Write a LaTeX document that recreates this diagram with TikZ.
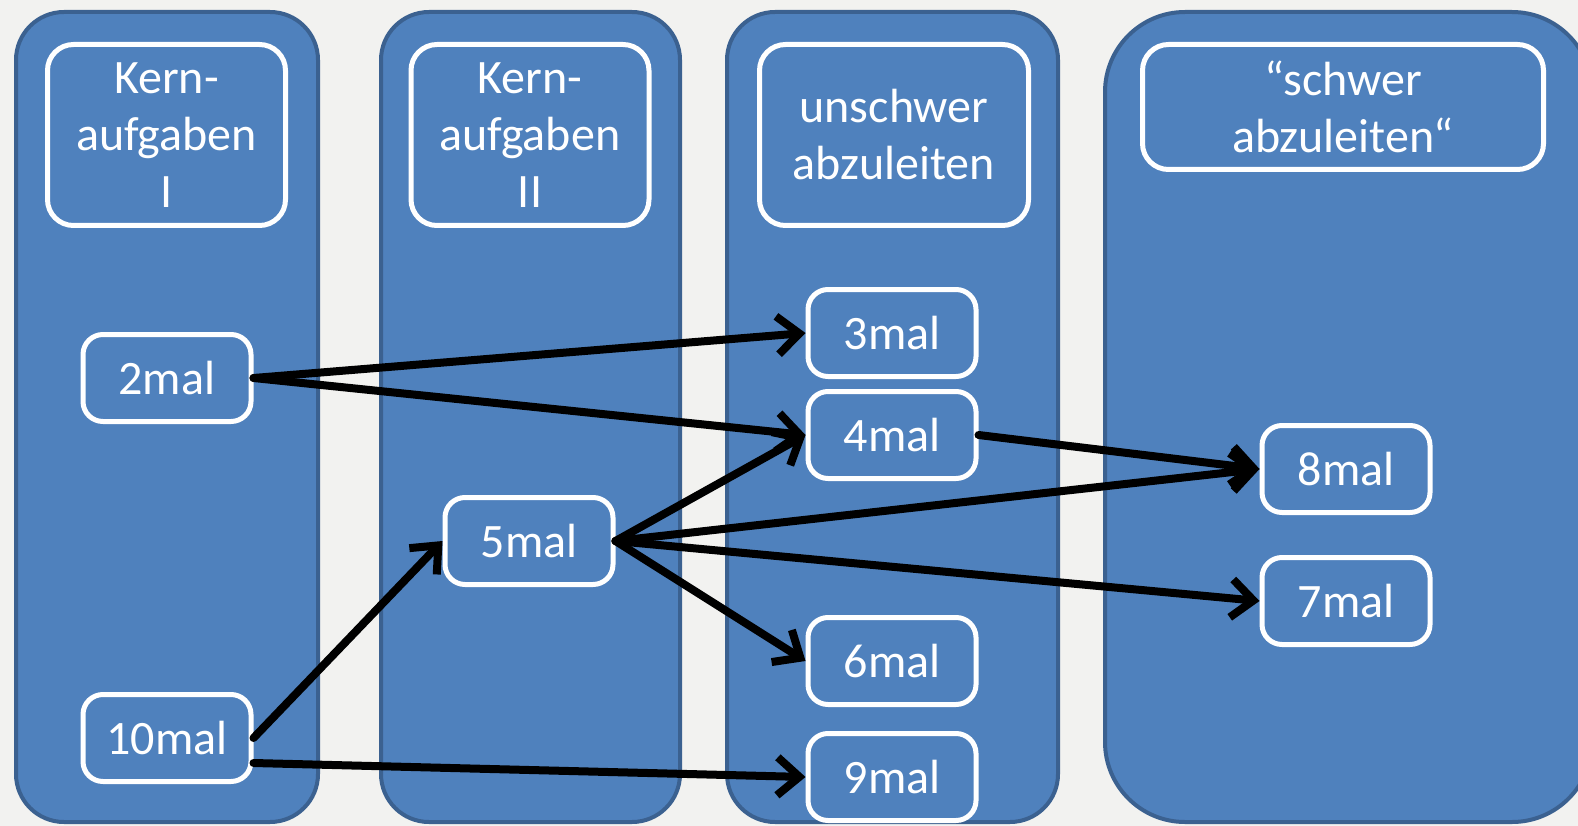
\documentclass[tikz,border=0pt]{standalone}
\usepackage{fontspec}
\setmainfont{Carlito}
\usetikzlibrary{arrows.meta}
\definecolor{bg}{HTML}{F2F2F0}
\definecolor{lane}{HTML}{4F81BD}
\definecolor{laneedge}{HTML}{3B6190}
\begin{document}
\begin{tikzpicture}[x=1pt,y=-1pt,
  lanebox/.style={fill=lane,draw=laneedge,line width=4pt,rounded corners=48pt},
  headbox/.style={draw=white,line width=5pt,rounded corners=26pt,text=white,
    font=\fontsize{48}{57}\selectfont,align=center,inner sep=0pt,minimum height=181pt},
  countbox/.style={draw=white,line width=5pt,rounded corners=20pt,text=white,
    font=\fontsize{48}{57}\selectfont,inner sep=0pt,minimum width=168pt,minimum height=87pt},
  link/.style={line width=8pt,black,line cap=round,line join=round,
    -{Straight Barb[length=22pt,width=38pt]}}]
  % canvas
  \clip (0,0) rectangle (1578,826);
  \fill[bg] (0,0) rectangle (1578,826);

  % lanes
  \draw[lanebox] (16,12) rectangle (318,822);
  \draw[lanebox] (381,12) rectangle (680,822);
  \draw[lanebox] (727,12) rectangle (1058,822);
  \draw[lanebox,rounded corners=80pt] (1105,12) rectangle (1592,822);

  % lane headings
  \node[headbox,minimum width=238pt] (h1) at (166.5,135) {Kern-\\aufgaben\\I};
  \node[headbox,minimum width=238pt] (h2) at (530,135) {Kern-\\aufgaben\\II};
  \node[headbox,minimum width=269pt] (h3) at (894,135) {unschwer\\abzuleiten};
  \node[headbox,minimum width=401pt,minimum height=125pt] (h4) at (1343,107) {“schwer\\abzuleiten“};

  % tasks
  \node[countbox] (n2)  at (167,378) {2mal};
  \node[countbox] (n10) at (167,738) {10mal};
  \node[countbox] (n5)  at (529,541) {5mal};
  \node[countbox] (n3)  at (892,333) {3mal};
  \node[countbox] (n4)  at (892,435) {4mal};
  \node[countbox] (n6)  at (892,661) {6mal};
  \node[countbox] (n9)  at (892,777) {9mal};
  \node[countbox] (n8)  at (1346,469) {8mal};
  \node[countbox] (n7)  at (1346,601) {7mal};

  % derivations
  \draw[link] (n2.east) -- (n3.west);
  \draw[link] (n2.east) -- (n4.west);
  \draw[link] (n10.east) -- (n5.west);
  \draw[link] ([yshift=-25pt]n10.east) -- (n9.west);
  \draw[link] (n5.east) -- (n4.west);
  \draw[link] (n5.east) -- (n8.west);
  \draw[link] (n5.east) -- (n7.west);
  \draw[link] (n5.east) -- (n6.west);
  \draw[link] (n4.east) -- (n8.west);
\end{tikzpicture}
\end{document}
